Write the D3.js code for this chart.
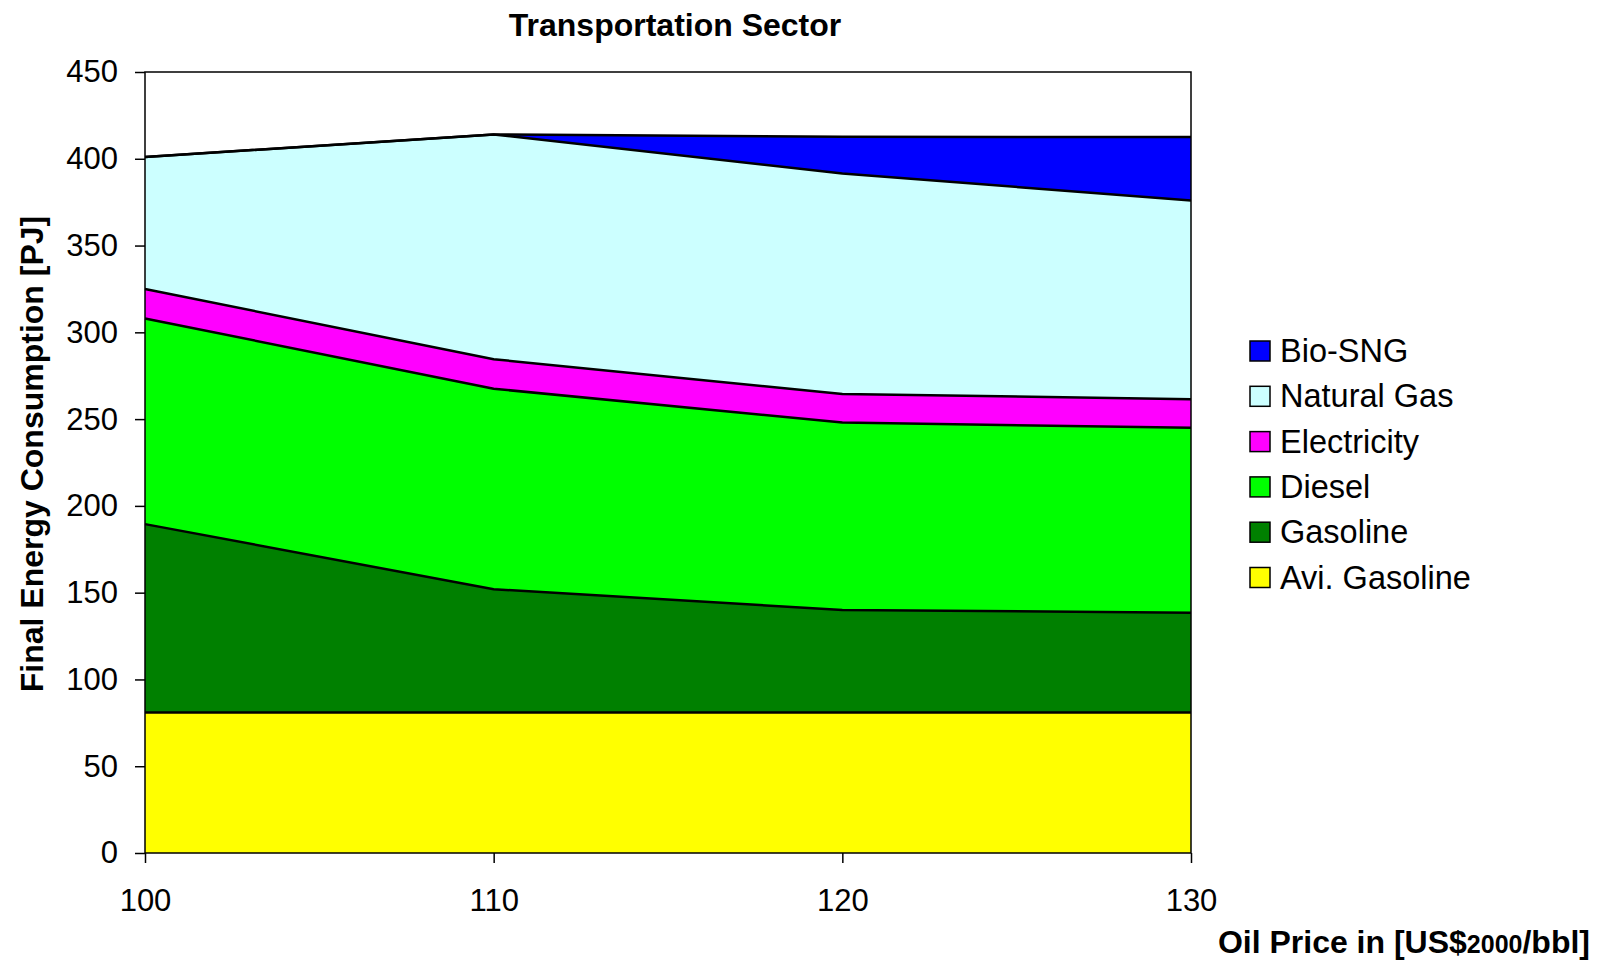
<!DOCTYPE html>
<html lang="en">
<head>
<meta charset="utf-8">
<title>Transportation Sector</title>
<script src="https://d3js.org/d3.v7.min.js"></script>
<style>
body{
  margin:0;
  background:#fff;
}
svg text{
  font-family: "Liberation Sans", Arial, sans-serif;
  fill:#000;
}
.axis text{
  font-size:31px;
}
.axis path, .axis line{
  stroke:#000;
  stroke-width:1.5px;
}
</style>
</head>
<body>
<div id="chart"></div>
<script>
// oil price scenarios
const prices = [100, 110, 120, 130];
// series, bottom to top (PJ)
const aviGasoline = [81, 81, 81, 81];
const gasoline    = [108.5, 71, 59, 57.5];
const diesel      = [118.5, 115.5, 108, 106.5];
const electricity = [17, 17, 16.5, 16.5];
const naturalGas  = [76, 129.5, 127, 114.5];
const bioSNG      = [0, 0, 21.2, 36.5];

const seriesNames  = ["Avi. Gasoline", "Gasoline", "Diesel", "Electricity", "Natural Gas", "Bio-SNG"];
const seriesValues = [aviGasoline, gasoline, diesel, electricity, naturalGas, bioSNG];
const seriesColors = ["#ffff00", "#008000", "#00ff00", "#ff00ff", "#ccffff", "#0000ff"];
const yTicks = [0, 50, 100, 150, 200, 250, 300, 350, 400, 450];

var W = 1602, H = 965;
var margin = {top:72, left:145, right:411, bottom:112};
var w = W - margin.left - margin.right,
    h = H - margin.top - margin.bottom;

var svg = d3.select("#chart").append("svg")
  .attr("width", W).attr("height", H);

var chart = svg.append("g")
  .attr("transform", "translate(" + margin.left + "," + margin.top + ")");

var x = d3.scaleLinear().domain([100, 130]).range([0, w]);
var y = d3.scaleLinear().domain([0, 450]).range([h, 0]);

// rows for the stack
var rows = prices.map(function(p, i){
  var r = {price: p};
  seriesNames.forEach(function(n, j){ r[n] = seriesValues[j][i]; });
  return r;
});

var stacked = d3.stack().keys(seriesNames)(rows);

var area = d3.area()
  .x(function(d){ return x(d.data.price); })
  .y0(function(d){ return y(d[0]); })
  .y1(function(d){ return y(d[1]); });

var topLine = d3.line()
  .x(function(d){ return x(d.data.price); })
  .y(function(d){ return y(d[1]); });

chart.selectAll("path.layer")
  .data(stacked)
  .enter()
  .append("path")
  .attr("class", "layer")
  .attr("d", area)
  .attr("fill", function(d, i){ return seriesColors[i]; });

chart.selectAll("path.edge")
  .data(stacked)
  .enter()
  .append("path")
  .attr("class", "edge")
  .attr("d", topLine)
  .attr("fill", "none")
  .attr("stroke", "#000")
  .attr("stroke-width", 2.5);

// frame
chart.append("rect")
  .attr("width", w).attr("height", h)
  .attr("fill", "none")
  .attr("stroke", "#000")
  .attr("stroke-width", 1.5);

chart.append("g")
  .attr("class", "axis")
  .call(d3.axisLeft(y).tickValues(yTicks).tickSize(10).tickPadding(17).tickSizeOuter(0))
  .call(function(g){ g.select(".domain").remove(); });

chart.append("g")
  .attr("class", "axis")
  .attr("transform", "translate(0," + h + ")")
  .call(d3.axisBottom(x).tickValues(prices).tickSize(10).tickPadding(26).tickSizeOuter(0))
  .call(function(g){ g.select(".domain").remove(); });

// title
svg.append("text")
  .attr("x", 675).attr("y", 36)
  .attr("text-anchor", "middle")
  .style("font-size", "32px")
  .style("font-weight", "bold")
  .text("Transportation Sector");

// y axis title
svg.append("text")
  .attr("transform", "translate(43,454) rotate(-90)")
  .attr("text-anchor", "middle")
  .style("font-size", "32px")
  .style("font-weight", "bold")
  .text("Final Energy Consumption [PJ]");

// x axis title
var xt = svg.append("text")
  .attr("x", 1590).attr("y", 953)
  .attr("text-anchor", "end")
  .style("font-size", "32px")
  .style("font-weight", "bold");
xt.append("tspan").text("Oil Price in [US$");
xt.append("tspan").style("font-size", "25px").text("2000");
xt.append("tspan").text("/bbl]");

// legend, top entry is the last series
var legend = svg.append("g")
  .attr("transform", "translate(1250,341)");

var items = legend.selectAll("g")
  .data(seriesNames.slice().reverse())
  .enter()
  .append("g")
  .attr("transform", function(d, i){ return "translate(0," + (i * 45.3) + ")"; });

items.append("rect")
  .attr("width", 20).attr("height", 20)
  .attr("fill", function(d){ return seriesColors[seriesNames.indexOf(d)]; })
  .attr("stroke", "#000")
  .attr("stroke-width", 1.5);

items.append("text")
  .attr("x", 30).attr("y", 21)
  .style("font-size", "32.5px")
  .text(function(d){ return d; });
</script>
</body>
</html>
